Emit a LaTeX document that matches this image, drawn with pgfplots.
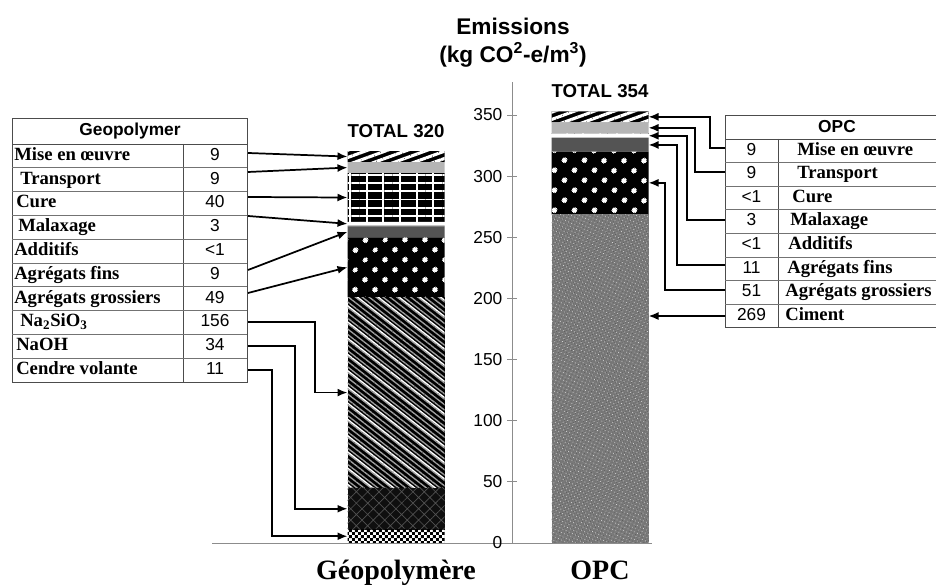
\documentclass[border=0pt]{standalone}
\usepackage{fontspec}
\setmainfont{Liberation Serif}
\setsansfont{Liberation Sans}
\usepackage{pgfplots}
\pgfplotsset{compat=1.18}
\usetikzlibrary{patterns,patterns.meta,arrows.meta}

\definecolor{axgray}{gray}{0.55}
\definecolor{finsgray}{gray}{0.33}
\definecolor{transpgray}{gray}{0.71}
\definecolor{cimentgray}{gray}{0.48}

\tikzdeclarepattern{name=smallchecker, type=uncolored,
  bottom left={(0pt,0pt)}, top right={(4.4pt,4.4pt)}, tile size={(4.4pt,4.4pt)},
  code={\pgfpathrectangle{\pgfpointorigin}{\pgfpoint{2.2pt}{2.2pt}}
        \pgfpathrectangle{\pgfpoint{2.2pt}{2.2pt}}{\pgfpoint{2.2pt}{2.2pt}}
        \pgfusepath{fill}}}

\begin{document}
\begin{tikzpicture}
\useasboundingbox (0,0) rectangle (702pt,441pt);
\begin{axis}[
  at={(159pt,33.75pt)}, anchor=south west,
  scale only axis, width=330pt, height=345.77pt,
  xmin=-300, xmax=140, ymin=0, ymax=377,
  enlargelimits=false, clip=false,
  axis lines=center,
  axis line style={-, draw=axgray, line width=0.6pt},
  ybar stacked, bar width=97,
  xtick={-116,88}, xticklabels={Géopolymère,OPC},
  x tick style={draw=none},
  xticklabel style={font=\fontsize{21}{24}\selectfont\bfseries, anchor=base, yshift=-23.5pt},
  ytick={0,50,...,350},
  y tick style={draw=axgray, line width=0.6pt},
  major tick length=7.5pt, tick align=center,
  hide obscured y ticks=false,
  yticklabel style={font=\sffamily\fontsize{13}{15}\selectfont,
    /pgf/number format/assume math mode=true},
]
% bottom to top: Geopolymere at x=-116, OPC at x=88
% Cendre volante
\addplot[draw=none, fill=white, postaction={pattern=smallchecker, pattern color=black}]
  coordinates {(-116,11) (88,0)};
% NaOH
\addplot[draw=none, fill=black!94,
  postaction={pattern={Hatch[angle=45,distance=6pt,line width=0.5pt]}, pattern color=black!68}]
  coordinates {(-116,34) (88,0)};
% Na2SiO3
\addplot[draw=none, fill=black,
  postaction={pattern={Lines[angle=-38,distance=3.2pt,line width=1pt]}, pattern color=gray!75},
  postaction={pattern={Lines[angle=-38,distance=9.6pt,line width=1pt,xshift=1.6pt]}, pattern color=white}]
  coordinates {(-116,156) (88,0)};
% Ciment
\addplot[draw=none, fill=cimentgray,
  postaction={pattern={Dots[angle=20,distance=1.9pt,radius=0.35pt]}, pattern color=black!65},
  postaction={pattern={Dots[angle=65,distance=2.6pt,radius=0.4pt]}, pattern color=gray!35}]
  coordinates {(-116,0) (88,269)};
% Agregats grossiers
\addplot[draw=none, fill=black,
  postaction={pattern={Dots[angle=45,distance=10.5pt,radius=2.1pt]}, pattern color=white}]
  coordinates {(-116,49) (88,51)};
% Agregats fins
\addplot[draw=none, fill=finsgray] coordinates {(-116,9) (88,11)};
% Additifs (<1)
\addplot[draw=none, fill=finsgray] coordinates {(-116,0.5) (88,0.5)};
% Malaxage
\addplot[draw=none, fill=white] coordinates {(-116,3) (88,3)};
% Cure
\addplot[draw=none, fill=black,
  postaction={pattern={Lines[angle=0,distance=6.2pt,line width=1.3pt]}, pattern color=white},
  postaction={pattern={Lines[angle=90,distance=12.5pt,line width=1.3pt]}, pattern color=white}]
  coordinates {(-116,40) (88,0.5)};
% Transport
\addplot[draw=none, fill=transpgray] coordinates {(-116,9) (88,9)};
% Mise en oeuvre
\addplot[draw=none, fill=black,
  postaction={pattern={Lines[angle=20,distance=5.1pt,line width=2.3pt]}, pattern color=white}]
  coordinates {(-116,9) (88,9)};

\node[anchor=south, inner sep=0, yshift=10pt, font=\sffamily\bfseries\fontsize{14}{16}\selectfont]
  at (axis cs:-116,320.5) {TOTAL 320};
\node[anchor=south, inner sep=0, yshift=10pt, font=\sffamily\bfseries\fontsize{14}{16}\selectfont]
  at (axis cs:88,353) {TOTAL 354};

% arrow targets on the bar edges
\coordinate (gMise)  at (axis cs:-164.5,316);
\coordinate (gTra)   at (axis cs:-164.5,307);
\coordinate (gCure)  at (axis cs:-164.5,282.5);
\coordinate (gMal)   at (axis cs:-164.5,261);
\coordinate (gFins)  at (axis cs:-164.5,254.5);
\coordinate (gGros)  at (axis cs:-164.5,225.5);
\coordinate (gNa)    at (axis cs:-164.5,123);
\coordinate (gNaOH)  at (axis cs:-164.5,28);
\coordinate (gCen)   at (axis cs:-164.5,5.5);
\coordinate (oMise)  at (axis cs:136.5,348.5);
\coordinate (oTra)   at (axis cs:136.5,339.5);
\coordinate (oMal)   at (axis cs:136.5,333);
\coordinate (oFins)  at (axis cs:136.5,325.5);
\coordinate (oGros)  at (axis cs:136.5,294.5);
\coordinate (oCim)   at (axis cs:136.5,185.6);
\end{axis}

\begin{scope}[x=0.75pt, y=-0.75pt, shift={(0pt,441pt)},
  arr/.style={-{Latex[length=7.5pt,width=6pt]}, line width=1.3pt},
  lab/.style={anchor=west, inner sep=0, text height=9.5pt, text depth=3pt,
    font=\bfseries\fontsize{14}{16}\selectfont},
  num/.style={inner sep=0, text height=9.5pt, text depth=3pt,
    font=\sffamily\fontsize{13}{15}\selectfont}]
% title
\node[font=\sffamily\bfseries\fontsize{17}{20}\selectfont] at (513,26) {Emissions};
\node[font=\sffamily\bfseries\fontsize{17}{20}\selectfont] at (513,55) {(kg CO\textsuperscript{2}-e/m\textsuperscript{3})};

% left table
\draw[black!70, line width=0.6pt] (12,118) rectangle (247,382);
\draw[black!70, line width=0.6pt] (12,144) -- (247,144) (183,144) -- (183,382);
\foreach \k in {1,...,9} \draw[black!55, line width=0.5pt] (12,{144+23.8*\k}) -- (247,{144+23.8*\k});
\node[font=\sffamily\bfseries\fontsize{13}{15}\selectfont] at (130,131) {Geopolymer};
\foreach \xx/\t/\v [count=\k] in {
  14/Mise en œuvre/9, 20/Transport/9, 16/Cure/40, 18/Malaxage/3, 14/Additifs/<1,
  14/Agrégats fins/9, 14/Agrégats grossiers/49,
  20/{Na\textsubscript{2}SiO\textsubscript{3}}/156, 16/NaOH/34, 16/Cendre volante/11} {
  \node[lab] at (\xx,{144+23.8*(\k-0.5)}) {\t};
  \node[num] at (215,{144+23.8*(\k-0.5)}) {\v};
}

% right table
\draw[black!70, line width=0.6pt] (936,115) -- (725,115) -- (725,327.8) -- (936,327.8);
\draw[black!70, line width=0.6pt] (725,139) -- (936,139) (778,139) -- (778,327.8);
\foreach \k in {1,...,7} \draw[black!55, line width=0.5pt] (725,{139+23.6*\k}) -- (936,{139+23.6*\k});
\node[font=\sffamily\bfseries\fontsize{13}{15}\selectfont] at (837,127) {OPC};
\foreach \xx/\t/\v [count=\k] in {
  797/Mise en œuvre/9, 797/Transport/9, 792/Cure/<1, 790/Malaxage/3, 788/Additifs/<1,
  787/Agrégats fins/11, 785/Agrégats grossiers/51, 785/Ciment/269} {
  \node[lab] at (\xx,{139+23.6*(\k-0.5)}) {\t};
  \node[num] at (751.5,{139+23.6*(\k-0.5)}) {\v};
}

% arrows, Geopolymere
\draw[arr] (248,153) -- (gMise);
\draw[arr] (248,172) -- (gTra);
\draw[arr] (248,197) -- (gCure);
\draw[arr] (248,216) -- (gMal);
\draw[arr] (248,270) -- (gFins);
\draw[arr] (248,293) -- (gGros);
\draw[arr] (248,322) -- (315,322) |- (gNa);
\draw[arr] (248,346) -- (295,346) |- (gNaOH);
\draw[arr] (248,370) -- (272,370) |- (gCen);
% arrows, OPC
\draw[arr] (725,148) -- (710,148) |- (oMise);
\draw[arr] (725,172) -- (695,172) |- (oTra);
\draw[arr] (725,220) -- (687,220) |- (oMal);
\draw[arr] (725,265) -- (677,265) |- (oFins);
\draw[arr] (725,290) -- (665,290) |- (oGros);
\draw[arr] (725,316) -- (oCim);
\end{scope}
\end{tikzpicture}
\end{document}
